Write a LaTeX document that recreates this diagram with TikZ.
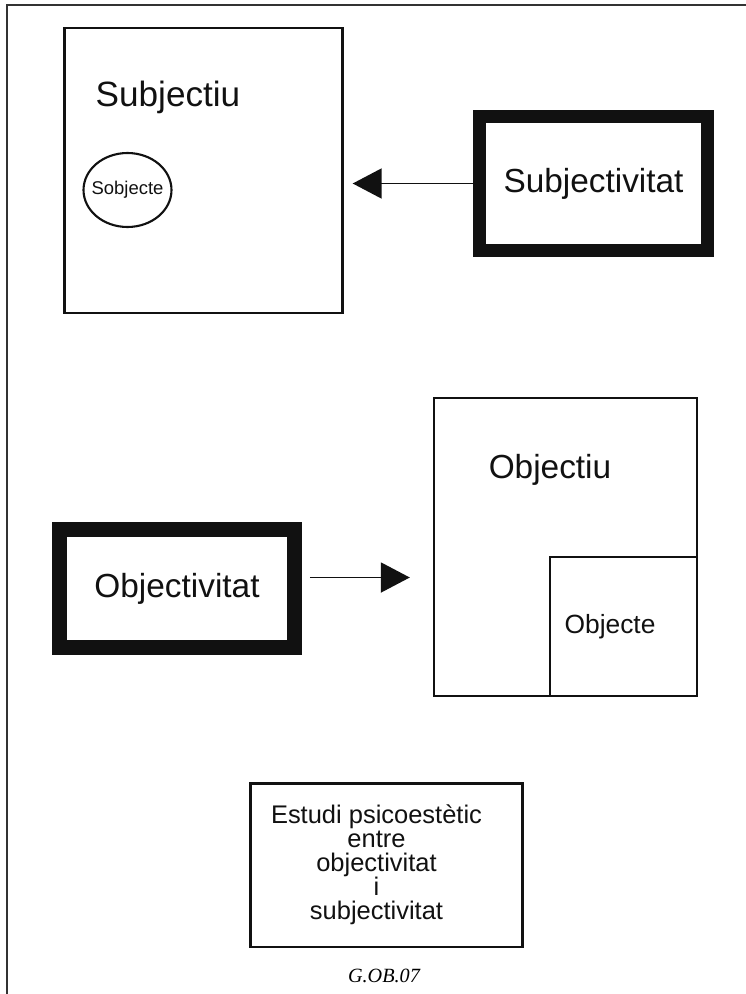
\documentclass[tikz,border=0pt]{standalone}
\usepackage{fontspec}
\setmainfont{Liberation Sans}
\newfontfamily\captionserif{Liberation Serif}
\usetikzlibrary{
    arrows.meta,
    positioning,
    shapes.geometric
}
\definecolor{inkblack}{HTML}{111111}
\definecolor{framegray}{HTML}{333333}
\tikzset{
    page frame/.style={
        draw=framegray,
        line width=1.2pt
    },
    thin box/.style={
        draw=inkblack,
        line width=1.4pt,
        inner sep=0pt
    },
    heavy box/.style={
        draw=inkblack,
        line width=#1,
        inner sep=0pt
    },
    flow/.style={
        -{Triangle[length=0.58cm, width=0.6cm]},
        line width=1.1pt,
        draw=inkblack
    },
    hand label/.style={
        font=\fontsize{#1}{#1}\selectfont,
        text=inkblack
    }
}

\begin{document}
\begin{tikzpicture}[x=0.02cm, y=-0.02cm]

    \useasboundingbox (0,0) rectangle (746,994);

    % Page frame (top and left edge only).
    \draw[page frame] (746,5) -- (7,5) -- (7,994);

    % -------------------------------------------------------------------------
    % 1. Subjectiu.
    % -------------------------------------------------------------------------
    \node[thin box, minimum width=5.56cm, minimum height=5.7cm]
        (subjbox) at (203.5,170.5) {};
    \node[hand label=20] (subjlabel) at (168,97) {Subjectiu};
    \node[
        draw=inkblack,
        ellipse,
        line width=1.2pt,
        minimum width=1.76cm,
        minimum height=1.48cm,
        inner sep=0pt
    ] (subjecte) at (127.5,190) {};
    \node[hand label=10.5] (subjectelabel) at (subjecte.center) {Sobjecte};

    \node[heavy box=0.26cm, minimum width=4.56cm, minimum height=2.68cm,
        hand label=19] (subjty) at (593.5,183.5) {Subjectivitat};

    \draw[flow, shorten >=0.18cm] (subjty.west) -- (subjty.west -| subjbox.east);

    % -------------------------------------------------------------------------
    % 2. Objectiu.
    % -------------------------------------------------------------------------
    \node[thin box, minimum width=5.26cm, minimum height=5.96cm]
        (objbox) at (565.5,547) {};
    \node[hand label=19] (objlabel) at (550,470) {Objectiu};
    \node[thin box, minimum width=2.94cm, minimum height=2.78cm]
        (objecte) at (623.5,626.5) {};
    \node[hand label=15] (objectelabel) at (610,627) {Objecte};

    \node[heavy box=0.3cm, minimum width=4.7cm, minimum height=2.36cm,
        hand label=19] (objty) at (177,588.5) {Objectivitat};

    \coordinate (objtyout) at ([yshift=0.22cm]objty.east);
    \draw[flow, shorten <=0.16cm, shorten >=0.46cm]
        (objtyout) -- (objtyout -| objbox.west);

    % -------------------------------------------------------------------------
    % 3. Study box and reference.
    % -------------------------------------------------------------------------
    \node[heavy box=1.7pt, minimum width=5.46cm, minimum height=3.28cm]
        (studybox) at (386.5,865) {};
    \node[align=center, font=\fontsize{14.5}{13.6}\selectfont, text=inkblack]
        (studytext) at ([xshift=-0.2cm]studybox.center)
        {Estudi psicoestètic\\entre\\objectivitat\\i\\subjectivitat};

    \node[font=\captionserif\itshape\fontsize{11.5}{13}\selectfont]
        (reference) at (384,976) {G.OB.07};

\end{tikzpicture}
\end{document}
